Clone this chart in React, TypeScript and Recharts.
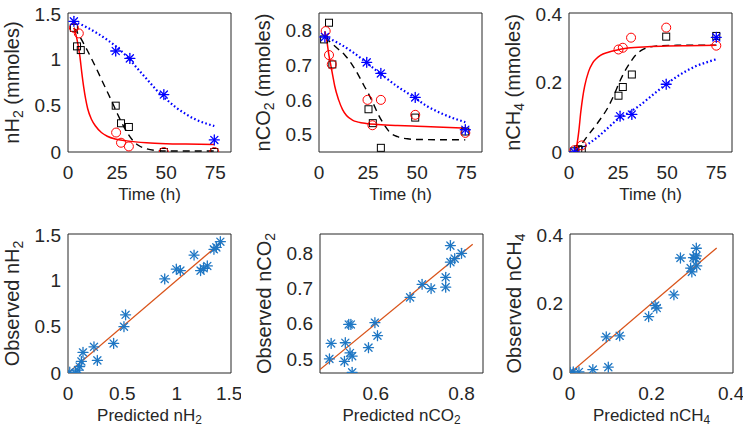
import React from 'react';
import {
  ComposedChart,
  ScatterChart,
  Line,
  Scatter,
  XAxis,
  YAxis,
  ReferenceArea,
  ReferenceLine,
  Label,
} from 'recharts';

const FONT = '"Liberation Sans", Arial, Helvetica, sans-serif';
const INK = '#262626';

// ---------- time axis ----------
const timeTicks = [0, 25, 50, 75];
const timeDomain = [0, 83];

// ---------- nH2 (top-left) ----------
const h2Stars = [[3, 1.41], [24.3, 1.09], [31.5, 1.01], [48.8, 0.62], [74.5, 0.13]];
const h2Circles = [[3, 1.34], [5.5, 1.28], [24.5, 0.21], [27, 0.1], [31, 0.06], [48.8, 0.0], [74.5, 0.0]];
const h2Squares = [[3, 1.34], [4.6, 1.14], [6.5, 1.1], [24.3, 0.5], [27, 0.31], [31, 0.27], [48.8, 0.0], [74.5, 0.0]];
const h2FitBlue = [[3, 1.4], [5, 1.39], [10, 1.34], [15, 1.28], [20, 1.21], [25, 1.13], [30, 1.03], [35, 0.91], [40, 0.79], [45, 0.67], [50, 0.57], [55, 0.48], [60, 0.41], [65, 0.35], [70, 0.31], [74.5, 0.28]];
const h2FitBlack = [[3, 1.34], [5, 1.28], [8, 1.17], [10, 1.09], [14, 0.92], [18, 0.74], [20, 0.65], [22, 0.56], [25, 0.42], [28, 0.29], [30, 0.215], [33, 0.125], [36, 0.07], [40, 0.035], [45, 0.015], [50, 0.01], [60, 0.01], [74.5, 0.01]];
const h2FitRed = [[3, 1.34], [4, 1.27], [5, 1.17], [6, 1.04], [7, 0.86], [8, 0.7], [9, 0.57], [10, 0.47], [12, 0.35], [14, 0.28], [17, 0.21], [20, 0.17], [24, 0.14], [30, 0.12], [40, 0.1], [50, 0.09], [60, 0.085], [74.5, 0.08]];
const h2Ticks = [0, 0.5, 1, 1.5];

// ---------- nCO2 (top-middle) ----------
const co2Stars = [[3, 0.781], [24.3, 0.708], [31.5, 0.676], [49, 0.607], [74.5, 0.514]];
const co2Circles = [[3.4, 0.798], [5.1, 0.729], [6.5, 0.702], [24.7, 0.6], [27.2, 0.527], [31.5, 0.6], [49, 0.557], [74.5, 0.505]];
const co2Squares = [[2.6, 0.774], [5.1, 0.822], [6.8, 0.702], [25.2, 0.573], [27.4, 0.533], [31.5, 0.462], [49, 0.549], [74.5, 0.509]];
const co2FitBlue = [[3, 0.782], [10, 0.763], [17, 0.738], [24, 0.708], [28, 0.69], [32, 0.672], [36, 0.655], [40, 0.638], [45, 0.62], [49, 0.605], [55, 0.582], [62, 0.562], [68, 0.548], [74.5, 0.536]];
const co2FitBlack = [[3, 0.78], [6, 0.765], [10, 0.745], [13, 0.73], [17, 0.7], [20, 0.672], [23, 0.64], [25, 0.62], [28, 0.585], [30, 0.56], [33, 0.53], [36, 0.507], [40, 0.494], [45, 0.488], [50, 0.486], [74.5, 0.485]];
const co2FitRed = [[3, 0.798], [4, 0.77], [5, 0.73], [6, 0.7], [7, 0.67], [8, 0.64], [10, 0.6], [12, 0.572], [14, 0.555], [17, 0.542], [20, 0.536], [24, 0.532], [30, 0.529], [40, 0.526], [50, 0.524], [60, 0.522], [74.5, 0.519]];
const co2Ticks = [0.5, 0.6, 0.7, 0.8];

// ---------- nCH4 (top-right) ----------
const ch4Stars = [[2.7, 0.0], [26, 0.103], [32, 0.108], [49.5, 0.195], [75, 0.33]];
const ch4Circles = [[2.7, 0.005], [6.5, 0.019], [25.2, 0.295], [27.4, 0.3], [31.6, 0.329], [49.5, 0.358], [75, 0.306]];
const ch4Squares = [[2.7, 0.002], [4.7, 0.008], [6.5, 0.006], [25.2, 0.162], [27.4, 0.187], [32, 0.223], [49.5, 0.332], [75, 0.334]];
const ch4FitBlue = [[3, 0.0], [10, 0.024], [15, 0.045], [20, 0.07], [25, 0.095], [30, 0.112], [35, 0.13], [40, 0.152], [45, 0.175], [50, 0.197], [55, 0.217], [60, 0.234], [65, 0.248], [70, 0.258], [75, 0.267]];
const ch4FitBlack = [[3, 0.0], [6, 0.02], [10, 0.05], [15, 0.087], [20, 0.13], [23, 0.165], [26, 0.205], [28, 0.228], [31, 0.256], [34, 0.279], [37, 0.293], [41, 0.302], [47, 0.306], [55, 0.307], [75, 0.307]];
const ch4FitRed = [[3, 0.0], [4, 0.02], [5, 0.06], [6, 0.115], [7, 0.158], [8, 0.19], [10, 0.232], [12, 0.256], [14, 0.269], [16, 0.278], [20, 0.287], [24, 0.293], [30, 0.299], [40, 0.303], [50, 0.305], [60, 0.306], [75, 0.307]];
const ch4Ticks = [0, 0.2, 0.4];

// ---------- parity plots (predicted, observed) ----------
const h2Parity = [[0.016, 0.01], [0.068, 0.0], [0.092, 0.03], [0.107, 0.07], [0.123, 0.125], [0.138, 0.222], [0.239, 0.283], [0.27, 0.136], [0.42, 0.319], [0.515, 0.5], [0.53, 0.628], [0.89, 1.015], [0.997, 1.12], [1.034, 1.105], [1.16, 1.273], [1.22, 1.105], [1.248, 1.13], [1.282, 1.155], [1.343, 1.335], [1.365, 1.356], [1.402, 1.417]];
const h2ParityLine = [0, 1.42];
const h2ParityTicks = [0, 0.5, 1, 1.5];

const co2Parity = [[0.492, 0.5], [0.496, 0.544], [0.527, 0.493], [0.529, 0.546], [0.537, 0.598], [0.542, 0.598], [0.54, 0.517], [0.545, 0.508], [0.545, 0.462], [0.583, 0.532], [0.598, 0.603], [0.604, 0.566], [0.68, 0.675], [0.708, 0.712], [0.729, 0.7], [0.763, 0.732], [0.763, 0.704], [0.774, 0.822], [0.774, 0.775], [0.784, 0.785], [0.8, 0.8]];
const co2ParityLine = [0.46, 0.826];
const co2ParityXTicks = [0.6, 0.8];
const co2ParityYTicks = [0.5, 0.6, 0.7, 0.8];

const ch4Parity = [[0.0, 0.002], [0.008, 0.003], [0.022, 0.003], [0.056, 0.01], [0.094, 0.017], [0.089, 0.104], [0.122, 0.107], [0.193, 0.162], [0.209, 0.194], [0.213, 0.187], [0.255, 0.225], [0.271, 0.331], [0.296, 0.302], [0.299, 0.291], [0.303, 0.332], [0.31, 0.359], [0.31, 0.337], [0.311, 0.308], [0.308, 0.33]];
const ch4ParityLine = [0, 0.36];
const ch4ParityTicks = [0, 0.2, 0.4];

// ---------- helpers ----------
const toTV = (arr: number[][]) => arr.map(([t, v]) => ({ t, v }));
const toPO = (arr: number[][]) => arr.map(([p, o]) => ({ p, o }));

const BLUE = '#0000ff';
const RED = '#ff0000';
const BLACK = '#000000';
const PBLUE = '#1f77c4';
const PRED = '#d95319';

function Asterisk({ cx, cy, color, r = 5, w = 1.3 }: any) {
  if (cx == null || cy == null) return null;
  const d = r * 0.72;
  return (
    <g stroke={color} strokeWidth={w} strokeLinecap="round">
      <line x1={cx - r} y1={cy} x2={cx + r} y2={cy} />
      <line x1={cx} y1={cy - r} x2={cx} y2={cy + r} />
      <line x1={cx - d} y1={cy - d} x2={cx + d} y2={cy + d} />
      <line x1={cx - d} y1={cy + d} x2={cx + d} y2={cy - d} />
    </g>
  );
}

const starShape = (color: string) => (p: any) => <Asterisk cx={p.cx} cy={p.cy} color={color} />;
const circleShape = (p: any) => <circle cx={p.cx} cy={p.cy} r={4.5} fill="none" stroke={RED} strokeWidth={1} />;
const squareShape = (p: any) => <rect x={p.cx - 3.5} y={p.cy - 3.5} width={7} height={7} fill="none" stroke={BLACK} strokeWidth={1} />;

function SubText({ x, y, main, sub, tail, rotate, fontSize }: any) {
  return (
    <text
      x={x}
      y={y}
      textAnchor="middle"
      dominantBaseline="central"
      fontSize={fontSize}
      fill={INK}
      fontFamily={FONT}
      transform={rotate ? `rotate(-90, ${x}, ${y})` : undefined}
    >
      <tspan>{main}</tspan>
      <tspan dy={fontSize * 0.3} fontSize={fontSize * 0.7}>{sub}</tspan>
      {tail ? <tspan dy={-fontSize * 0.3}>{tail}</tspan> : null}
    </text>
  );
}

const YW = 72;
const XH = 70;
const xLabelContent = (main: string, sub: string, tail: string) => (props: any) => {
  const vb = props.viewBox || {};
  return <SubText x={vb.x + vb.width / 2} y={vb.y + 42} main={main} sub={sub} tail={tail} fontSize={17} />;
};
const yLabelContent = (main: string, sub: string, tail: string) => (props: any) => {
  const vb = props.viewBox || {};
  return <SubText x={vb.x + vb.width - 56} y={vb.y + vb.height / 2} main={main} sub={sub} tail={tail} rotate fontSize={20} />;
};

const W = YW + 163 + 10;
const H = 10 + 139 + XH;
const MARGIN = { top: 10, right: 10, left: 0, bottom: 0 };
const tickStyle = { fontSize: 19, fill: INK, fontFamily: FONT };

function TopPanel({ left, top, yDomain, yTicks, ySub, stars, circles, squares, fitBlue, fitBlack, fitRed }: any) {
  return (
    <div style={{ position: 'absolute', left: left - YW, top: top - 10 }}>
      <ComposedChart width={W} height={H} margin={MARGIN} style={{ fontFamily: FONT }}>
        <XAxis
          type="number"
          dataKey="t"
          domain={timeDomain}
          ticks={timeTicks}
          allowDataOverflow
          axisLine={false}
          tickLine={false}
          tickSize={6}
          tickMargin={8}
          tick={tickStyle}
          height={XH}
        >
          <Label content={xLabelContent('Time (h)', '', '')} />
        </XAxis>
        <YAxis
          type="number"
          dataKey="v"
          domain={yDomain}
          ticks={yTicks}
          allowDataOverflow
          axisLine={false}
          tickLine={false}
          tickSize={6}
          tickMargin={1}
          tick={tickStyle}
          width={YW}
        >
          <Label content={yLabelContent('n' + ySub[0], ySub[1], ' (mmoles)')} />
        </YAxis>
        <ReferenceArea x1={timeDomain[0]} x2={timeDomain[1]} y1={yDomain[0]} y2={yDomain[1]} fill="none" stroke={INK} strokeWidth={1} ifOverflow="visible" />
        <Line data={toTV(fitBlue)} dataKey="v" type="monotone" stroke={BLUE} strokeWidth={2.2} strokeDasharray="1.6 2.4" dot={false} isAnimationActive={false} />
        <Line data={toTV(fitBlack)} dataKey="v" type="monotone" stroke={BLACK} strokeWidth={1.4} strokeDasharray="7 5" dot={false} isAnimationActive={false} />
        <Line data={toTV(fitRed)} dataKey="v" type="monotone" stroke={RED} strokeWidth={1.5} dot={false} isAnimationActive={false} />
        <Scatter data={toTV(squares)} dataKey="v" shape={squareShape} isAnimationActive={false} />
        <Scatter data={toTV(circles)} dataKey="v" shape={circleShape} isAnimationActive={false} />
        <Scatter data={toTV(stars)} dataKey="v" shape={starShape(BLUE)} isAnimationActive={false} />
      </ComposedChart>
    </div>
  );
}

function ParityPanel({ left, top, xDomain, yDomain, xTicks, yTicks, sub, points, line }: any) {
  return (
    <div style={{ position: 'absolute', left: left - YW, top: top - 10 }}>
      <ScatterChart width={W} height={H} margin={MARGIN} style={{ fontFamily: FONT }}>
        <XAxis
          type="number"
          dataKey="p"
          domain={xDomain}
          ticks={xTicks}
          allowDataOverflow
          axisLine={false}
          tickLine={false}
          tickSize={6}
          tickMargin={8}
          tick={tickStyle}
          height={XH}
        >
          <Label content={xLabelContent('Predicted n' + sub[0], sub[1], '')} />
        </XAxis>
        <YAxis
          type="number"
          dataKey="o"
          domain={yDomain}
          ticks={yTicks}
          allowDataOverflow
          axisLine={false}
          tickLine={false}
          tickSize={6}
          tickMargin={1}
          tick={tickStyle}
          width={YW}
        >
          <Label content={yLabelContent('Observed n' + sub[0], sub[1], '')} />
        </YAxis>
        <ReferenceArea x1={xDomain[0]} x2={xDomain[1]} y1={yDomain[0]} y2={yDomain[1]} fill="none" stroke={INK} strokeWidth={1} ifOverflow="visible" />
        <ReferenceLine
          segment={[{ x: line[0], y: line[0] }, { x: line[1], y: line[1] }]}
          stroke={PRED}
          strokeWidth={1.3}
          ifOverflow="hidden"
        />
        <Scatter data={toPO(points)} dataKey="o" shape={starShape(PBLUE)} isAnimationActive={false} />
      </ScatterChart>
    </div>
  );
}

export default function App() {
  return (
    <div style={{ position: 'absolute', left: 0, top: 0, width: 750, height: 437, background: '#fff', overflow: 'hidden' }}>
      <TopPanel left={68} top={13} yDomain={[0, 1.5]} yTicks={h2Ticks} ySub={['H', '2']}
        stars={h2Stars} circles={h2Circles} squares={h2Squares}
        fitBlue={h2FitBlue} fitBlack={h2FitBlack} fitRed={h2FitRed} />
      <TopPanel left={319} top={13} yDomain={[0.45, 0.85]} yTicks={co2Ticks} ySub={['CO', '2']}
        stars={co2Stars} circles={co2Circles} squares={co2Squares}
        fitBlue={co2FitBlue} fitBlack={co2FitBlack} fitRed={co2FitRed} />
      <TopPanel left={569} top={13} yDomain={[0, 0.4]} yTicks={ch4Ticks} ySub={['CH', '4']}
        stars={ch4Stars} circles={ch4Circles} squares={ch4Squares}
        fitBlue={ch4FitBlue} fitBlack={ch4FitBlack} fitRed={ch4FitRed} />

      <ParityPanel left={68} top={234} xDomain={[0, 1.5]} yDomain={[0, 1.5]} xTicks={h2ParityTicks} yTicks={h2ParityTicks}
        sub={['H', '2']} points={h2Parity} line={h2ParityLine} />
      <ParityPanel left={320} top={234} xDomain={[0.47, 0.85]} yDomain={[0.46, 0.855]} xTicks={co2ParityXTicks} yTicks={co2ParityYTicks}
        sub={['CO', '2']} points={co2Parity} line={co2ParityLine} />
      <ParityPanel left={570} top={234} xDomain={[0, 0.4]} yDomain={[0, 0.4]} xTicks={ch4ParityTicks} yTicks={ch4ParityTicks}
        sub={['CH', '4']} points={ch4Parity} line={ch4ParityLine} />
    </div>
  );
}
